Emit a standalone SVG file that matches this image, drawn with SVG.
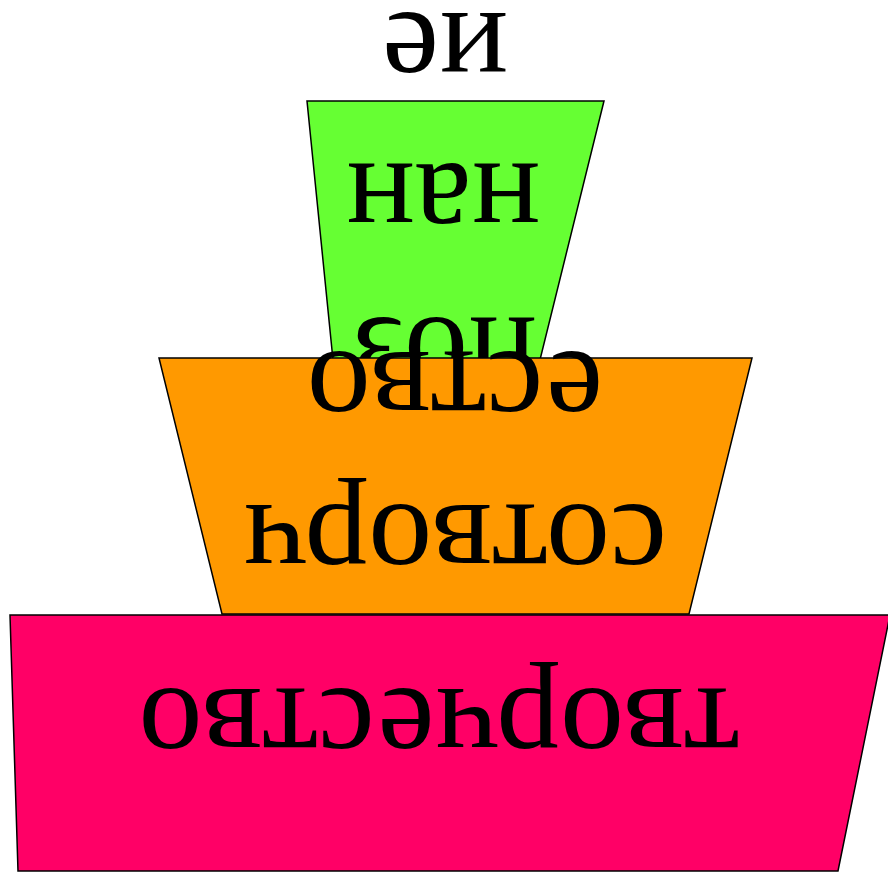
<svg xmlns="http://www.w3.org/2000/svg" width="888" height="872" viewBox="0 0 888 872">
<style>
.shape{stroke:#000;stroke-width:1.5}
.lbl{font-family:"Liberation Serif","Times New Roman",serif;font-size:128px;fill:#000;text-anchor:middle}
</style>
<rect width="888" height="872" fill="#fff"/>
<g id="node-poznanie">
<polygon class="shape" fill="#66ff33" points="307,101 604,101 535,380 335,380"/>
<text class="lbl" transform="translate(445,318) rotate(180)">поз</text>
<text class="lbl" transform="translate(443,164) rotate(180)">нан</text>
<text class="lbl" transform="translate(445,13) rotate(180)">ие</text>
</g>
<g id="node-sotvorchestvo">
<polygon class="shape" fill="#ff9900" points="159,358 752,358 689,614 222,614"/>
<text class="lbl" transform="translate(455,505) rotate(180)">сотворч</text>
<text class="lbl" transform="translate(455,352) rotate(180)">ество</text>
</g>
<g id="node-tvorchestvo">
<polygon class="shape" fill="#ff0066" points="10,615 890,615 838,871 18,871"/>
<text class="lbl" transform="translate(439,689) rotate(180)">творчество</text>
</g>
<g id="connectors"></g>
</svg>
